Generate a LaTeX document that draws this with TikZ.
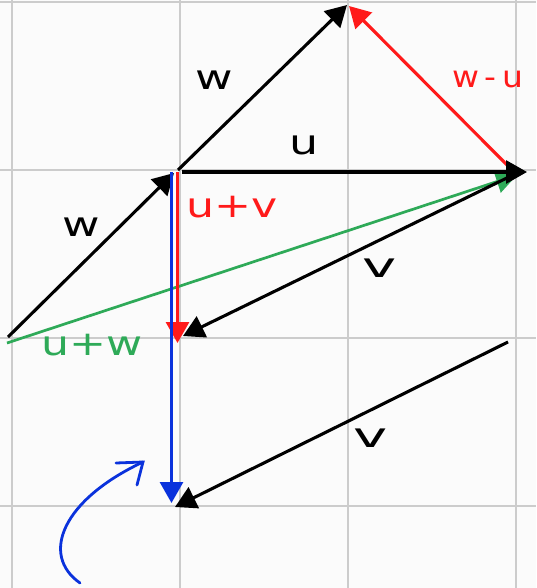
\documentclass[tikz,border=0pt]{standalone}
\usepackage{fontspec}
\usepackage{graphicx}
\setmainfont{DejaVu Sans}
\usetikzlibrary{arrows.meta}
\definecolor{gridgray}{HTML}{CCCCCC}
\definecolor{pred}{HTML}{FF1A1A}
\definecolor{pblue}{HTML}{0A32DC}
\definecolor{pgreen}{HTML}{2EAA58}
\definecolor{paper}{HTML}{FBFBFB}
\newcommand{\hand}[2][1.35]{\scalebox{#1}[1]{#2}}
\begin{document}
\begin{tikzpicture}[x=1pt,y=-1pt,
  vec/.style={line width=3.1pt, -{Triangle[length=21pt,width=23pt]}},
  lbl/.style={font=\fontsize{34}{34}\selectfont, inner sep=0pt},
  gridline/.style={gridgray, line width=2pt},
  bar/.style={line width=2.8pt, line cap=round}]
\fill[paper] (0,0) rectangle (536,588);
\useasboundingbox (0,0) rectangle (536,588);
% grid
\foreach \g in {12,180,348,516} {
  \draw[gridline] (\g,0) -- (\g,588);
}
\foreach \g in {2,170,338,506} {
  \draw[gridline] (0,\g) -- (536,\g);
}
% points
\coordinate (O) at (178,170);
\coordinate (Wtip) at (347,5);
\coordinate (Ustart) at (182,172);
\coordinate (Utip) at (527,172);
\coordinate (WUstart) at (512,170);
\coordinate (WUtip) at (349,6);
\coordinate (Lw) at (8,337);
\coordinate (LwTip) at (174,173);
\coordinate (Gstart) at (7,343);
\coordinate (Gtip) at (517,175);
\coordinate (Vstart) at (513,175);
\coordinate (Vtip) at (183,336);
\coordinate (V2start) at (508,342);
\coordinate (V2tip) at (175,507);
\coordinate (Rstart) at (177.5,172);
\coordinate (Rtip) at (177.5,343);
\coordinate (Bstart) at (171.5,172);
\coordinate (Btip) at (171.5,503);
\coordinate (Cstart) at (80,583);
\coordinate (Ctip) at (143,462);
\coordinate (CbarA) at (116,463);
\coordinate (CbarB) at (137,485);
% green u+w
\draw[vec, pgreen, line width=2.7pt] (Gstart) -- (Gtip);
% red w-u
\draw[vec, pred] (WUstart) -- (WUtip);
% black vectors
\draw[vec] (O) -- (Wtip);
\draw[vec] (Ustart) -- (Utip);
\draw[vec] (Lw) -- (LwTip);
\draw[vec] (Vstart) -- (Vtip);
\draw[vec] (V2start) -- (V2tip);
% red u+v
\draw[vec, pred] (Rstart) -- (Rtip);
% blue
\draw[vec, pblue] (Bstart) -- (Btip);
\draw[bar, pblue] (Cstart) .. controls (40,555) and (62,500) .. (Ctip);
\draw[bar, pblue] (CbarA) -- (Ctip) -- (CbarB);
% labels
\node[lbl] (lw1) at (214,80) {\hand{w}};
\node[lbl] (lu) at (304,145) {\hand{u}};
\node[lbl, pred, anchor=west, font=\fontsize{30}{30}\selectfont] (lwu) at (452,79) {\hand[1.1]{w\,-\,u}};
\node[lbl, pred] (luv) at (232,207) {\hand[1.3]{u+v}};
\node[lbl] (lw2) at (81,227) {\hand{w}};
\node[lbl] (lv1) at (380,268) {\hand[1.7]{v}};
\node[lbl, pgreen] (luw) at (92,345) {\hand[1.3]{u+w}};
\node[lbl] (lv2) at (371,438) {\hand[1.7]{v}};
\end{tikzpicture}
\end{document}
